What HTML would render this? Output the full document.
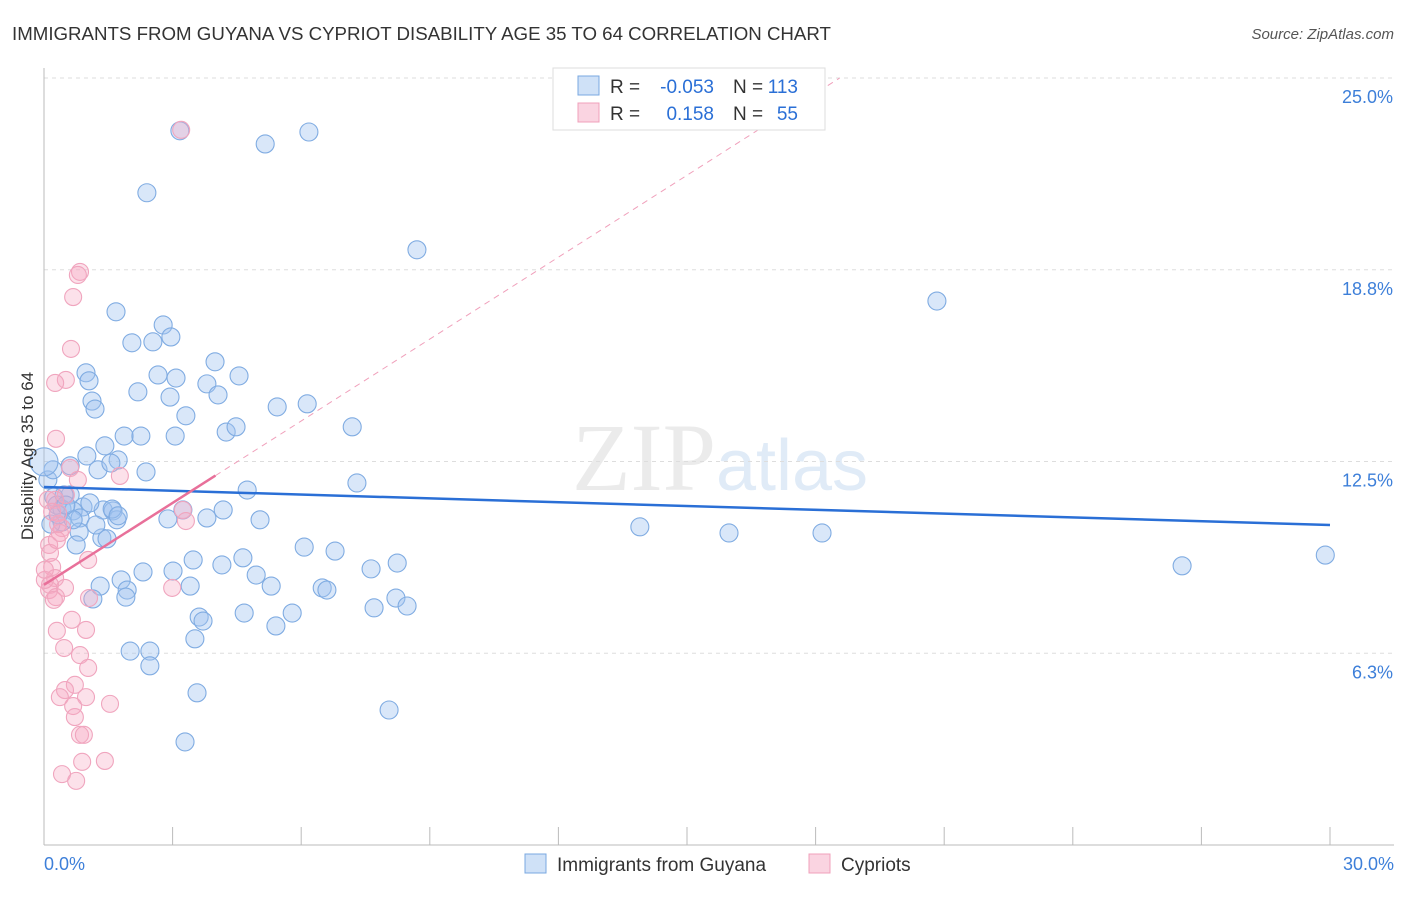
<!DOCTYPE html>
<html><head><meta charset="utf-8"><style>
body{margin:0;background:#fff;font-family:"Liberation Sans",sans-serif}
</style></head><body>
<svg id="chart" width="1406" height="892" xmlns="http://www.w3.org/2000/svg" style="font-family:'Liberation Sans',sans-serif">
<text x="12" y="40" font-size="18.7" fill="#333">IMMIGRANTS FROM GUYANA VS CYPRIOT DISABILITY AGE 35 TO 64 CORRELATION CHART</text>
<text x="1394" y="39" font-size="15" fill="#555" text-anchor="end" font-style="italic">Source: ZipAtlas.com</text>
<text x="720" y="490" font-size="96" fill="#ebebeb" text-anchor="middle" font-family="Liberation Serif">ZIP<tspan fill="#e0ebf7" font-family="Liberation Sans" font-size="72">atlas</tspan></text>
<g id="grid"></g><g id="axes"></g><g id="marks"></g>
<text transform="translate(33,456) rotate(-90)" font-size="17" fill="#333" text-anchor="middle">Disability Age 35 to 64</text>
<g>
<rect x="553" y="68" width="272" height="62" fill="#fff" stroke="#ddd"/>
<rect x="578" y="76" width="21" height="19" fill="rgba(160,195,240,0.5)" stroke="#7aa8e0"/>
<rect x="578" y="103" width="21" height="19" fill="rgba(245,170,195,0.5)" stroke="#f0a0bb"/>
<text x="610" y="93" font-size="19" fill="#333">R =</text>
<text x="714" y="93" font-size="19" fill="#2a6fd6" text-anchor="end">-0.053</text>
<text x="733" y="93" font-size="19" fill="#333">N =</text>
<text x="798" y="93" font-size="19" fill="#2a6fd6" text-anchor="end">113</text>
<text x="610" y="120" font-size="19" fill="#333">R =</text>
<text x="714" y="120" font-size="19" fill="#2a6fd6" text-anchor="end">0.158</text>
<text x="733" y="120" font-size="19" fill="#333">N =</text>
<text x="798" y="120" font-size="19" fill="#2a6fd6" text-anchor="end">55</text>
</g>
<g>
<rect x="525" y="854" width="21" height="19" fill="rgba(160,195,240,0.5)" stroke="#7aa8e0"/>
<text x="557" y="871" font-size="19" fill="#333">Immigrants from Guyana</text>
<rect x="809" y="854" width="21" height="19" fill="rgba(245,170,195,0.5)" stroke="#f0a0bb"/>
<text x="841" y="871" font-size="19" fill="#333">Cypriots</text>
</g>
</svg>
<script>
const yTicks=[6.25,12.5,18.75,25];
const yTickLabels=["6.3%","12.5%","18.8%","25.0%"];
const xTicks=[0,3,6,9,12,15,18,21,24,27,30];
const blueX=[3.17,5.16,6.18,2.40,8.70,20.83,1.68,2.78,2.96,2.05,2.54,3.99,0.98,1.05,2.66,3.08,3.80,4.55,2.19,2.94,4.06,1.12,1.19,3.31,5.44,6.14,7.19,4.25,4.48,1.87,2.26,3.06,1.42,1.00,1.73,0.61,1.26,1.56,2.38,7.30,4.74,0.23,0.61,0.30,0.91,0.42,0.68,1.38,1.61,1.70,0.84,0.42,0.16,3.80,4.18,5.04,3.24,2.89,1.35,1.47,0.82,0.75,13.90,15.98,18.15,6.07,6.79,3.48,4.64,4.15,8.24,7.63,3.01,2.31,1.80,4.95,1.31,1.94,3.41,5.30,6.49,6.60,26.55,29.89,1.14,1.91,8.21,7.70,8.47,4.67,5.79,3.62,3.71,5.41,3.52,2.01,2.47,2.47,3.57,8.05,3.29,0.09,0.21,0.47,1.21,0.33,1.59,1.73,1.07,0.68,0.51];
const blueY=[23.28,22.85,23.24,21.26,19.40,17.73,17.38,16.95,16.56,16.37,16.40,15.75,15.39,15.13,15.32,15.22,15.03,15.29,14.77,14.60,14.67,14.47,14.21,13.99,14.28,14.38,13.63,13.46,13.63,13.33,13.33,13.33,13.01,12.68,12.55,12.36,12.23,12.45,12.16,11.80,11.57,11.34,11.41,11.08,11.02,10.95,10.89,10.92,10.89,10.60,10.66,10.53,10.46,10.66,10.92,10.60,10.92,10.63,10.01,9.98,10.20,9.78,10.37,10.17,10.17,9.71,9.58,9.29,9.36,9.13,9.19,9.00,8.93,8.90,8.64,8.80,8.44,8.31,8.44,8.44,8.38,8.31,9.10,9.45,8.02,8.08,8.05,7.73,7.79,7.56,7.56,7.43,7.30,7.14,6.72,6.32,6.32,5.84,4.96,4.40,3.36,11.90,12.23,11.41,10.43,10.76,10.95,10.73,11.15,10.60,11.08];
const pinkX=[3.20,0.84,0.79,0.68,0.63,0.51,0.26,0.28,0.61,1.77,0.79,0.51,0.26,0.33,0.42,0.37,0.33,0.12,3.24,3.31,1.03,0.14,0.19,0.26,0.14,0.49,0.12,0.28,0.23,1.05,2.99,0.65,0.30,0.98,0.47,0.84,1.03,0.72,0.49,0.37,0.98,0.68,1.54,0.72,0.84,0.93,0.89,1.42,0.42,0.75,0.09,0.19,0.02,0.02,0.30];
const pinkY=[23.31,18.68,18.58,17.86,16.17,15.16,15.06,13.24,12.29,12.03,11.90,11.41,11.25,10.82,10.33,10.17,10.46,9.78,10.92,10.56,9.29,9.52,9.06,8.70,8.48,8.38,8.31,8.08,7.99,8.05,8.38,7.34,6.98,7.01,6.42,6.19,5.77,5.22,5.05,4.82,4.82,4.53,4.60,4.17,3.59,3.59,2.71,2.74,2.31,2.09,11.25,10.86,8.64,8.97,9.94];
const bigX=[0], bigY=[12.49];
const blueTrend=[11.67,10.43];
const pinkTrend=[8.48,0.89]; // intercept, slope
const NS="http://www.w3.org/2000/svg";
const X0=44,X1=1330,Y0=845,YT=78;
const sx=v=>X0+v*(X1-X0)/30, sy=v=>Y0-v*(Y0-YT)/25;
function mk(tag,attrs,parent){const e=document.createElementNS(NS,tag);for(const k in attrs)e.setAttribute(k,attrs[k]);document.getElementById(parent).appendChild(e);return e;}
yTicks.forEach((t,i)=>{
 const l=mk('line',{x1:X0,x2:1394,y1:sy(t),y2:sy(t),stroke:'#ddd','stroke-dasharray':'4,4'},'grid');
 
 
 const tx=mk('text',{x:1393,y:sy(t)+25,'font-size':18,fill:'#3d7fd9','text-anchor':'end'},'axes');
 tx.textContent=yTickLabels[i];
 
 
});
const ax=mk('line',{x1:X0,x2:1394,y1:Y0,y2:Y0,stroke:'#bbb'},'axes');


const ay=mk('line',{x1:X0,x2:X0,y1:68,y2:Y0,stroke:'#bbb'},'axes');


xTicks.forEach(t=>{
 const l=mk('line',{x1:sx(t),x2:sx(t),y1:Y0,y2:Y0-18,stroke:'#bbb'},'axes');
 
 
});
[["0.0%",44,'start'],["30.0%",1394,'end']].forEach(a=>{
 const t=mk('text',{x:a[1],y:870,'font-size':18,fill:'#3d7fd9','text-anchor':a[2]},'axes');t.textContent=a[0];
 
 
});
function dot(x,y,r,fill,stroke,name){const c=mk('circle',{cx:sx(x),cy:sy(y),r:r,fill:fill,stroke:stroke,'stroke-width':1.1},'marks');
 
 }
blueX.forEach((x,i)=>dot(x,blueY[i],9,'rgba(160,195,240,0.4)','#80ace2','guyana-point'));
bigX.forEach((x,i)=>dot(x,bigY[i],14,'rgba(160,195,240,0.4)','#80ace2','guyana-point-large'));
pinkX.forEach((x,i)=>dot(x,pinkY[i],8.5,'rgba(245,170,195,0.35)','#f0a5be','cypriot-point'));
const bt=mk('line',{x1:sx(0),y1:sy(blueTrend[0]),x2:sx(30),y2:sy(blueTrend[1]),stroke:'#2a6fd6','stroke-width':2.5},'marks');


const xe=(25-pinkTrend[0])/pinkTrend[1];
const pd=mk('line',{x1:sx(4),y1:sy(pinkTrend[0]+4*pinkTrend[1]),x2:sx(xe),y2:sy(25),stroke:'#f0a0bb','stroke-width':1,'stroke-dasharray':'6,5'},'marks');


const pt=mk('line',{x1:sx(0),y1:sy(pinkTrend[0]),x2:sx(4),y2:sy(pinkTrend[0]+4*pinkTrend[1]),stroke:'#e8709a','stroke-width':2.5},'marks');


</script>
</body></html>
